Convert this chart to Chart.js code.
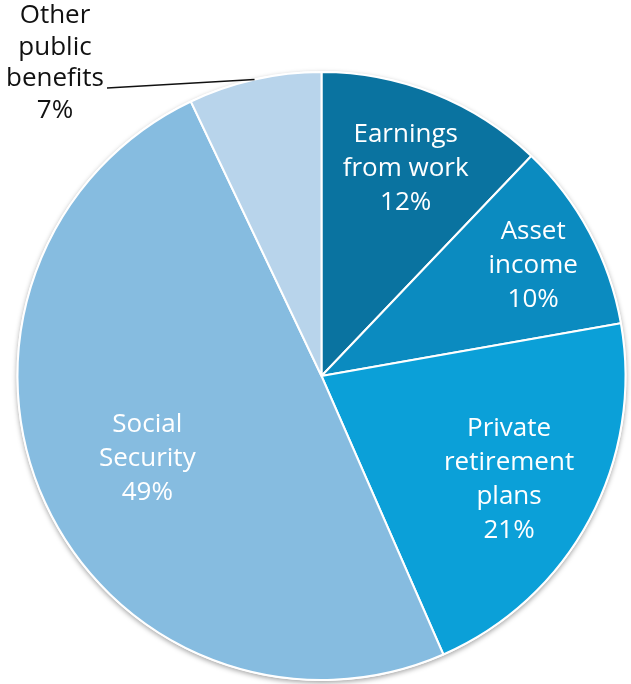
<!DOCTYPE html>
<html>
<head>
<meta charset="utf-8">
<script src="https://cdn.jsdelivr.net/npm/chart.js@4"></script>
<style>
  html, body { margin: 0; padding: 0; background: #ffffff; }
  #wrap { width: 631px; height: 684px; position: relative; }
</style>
</head>
<body>
<div id="wrap"><canvas id="c" width="631" height="684"></canvas></div>
<script>
// Sources of income for older households, share of total (%)
const categories = [
  ['Earnings', 'from work'],
  ['Asset', 'income'],
  ['Private', 'retirement', 'plans'],
  ['Social', 'Security'],
  ['Other', 'public', 'benefits']
];
const shares = [12, 10, 21, 49, 7];
const sliceColors = ['#0a73a0', '#0b8bc0', '#0ba0d8', '#86bce0', '#b8d4eb'];

// Radial placement of each inside label (fraction of radius); null = outside label
const labelRadius = [0.745, 0.79, 0.70, 0.63, null];
const FONT = '26px "Open Sans", "Liberation Sans", sans-serif';
const LINE_H = 34;
const TEXT_DY = 3;

// soft drop shadow under the pie
const pieShadow = {
  id: 'pieShadow',
  beforeDatasetsDraw(chart) {
    const arc = chart.getDatasetMeta(0).data[0];
    if (!arc) return;
    const p = arc.getProps(['x', 'y', 'outerRadius']);
    const ctx = chart.ctx;
    ctx.save();
    ctx.shadowColor = 'rgba(0,0,0,0.35)';
    ctx.shadowBlur = 5;
    ctx.shadowOffsetX = 0;
    ctx.shadowOffsetY = 2;
    ctx.fillStyle = '#ffffff';
    ctx.beginPath();
    ctx.arc(p.x, p.y, p.outerRadius + 1, 0, Math.PI * 2);
    ctx.fill();
    ctx.restore();
  }
};

const sliceLabels = {
  id: 'sliceLabels',
  afterDatasetsDraw(chart) {
    const ctx = chart.ctx;
    const meta = chart.getDatasetMeta(0);
    ctx.save();
    ctx.font = FONT;
    ctx.textAlign = 'center';
    ctx.textBaseline = 'middle';
    meta.data.forEach((arc, i) => {
      const lines = categories[i].concat([shares[i] + '%']);
      const props = arc.getProps(['x', 'y', 'startAngle', 'endAngle', 'outerRadius']);
      const mid = (props.startAngle + props.endAngle) / 2;
      if (labelRadius[i] !== null) {
        const r = props.outerRadius * labelRadius[i];
        const cx = props.x + Math.cos(mid) * r;
        const cy = props.y + Math.sin(mid) * r + TEXT_DY;
        const top = cy - (lines.length - 1) * LINE_H / 2;
        ctx.fillStyle = '#ffffff';
        lines.forEach((t, k) => ctx.fillText(t, cx, top + k * LINE_H));
      } else {
        // outside label with a leader line to the slice edge
        const ex = props.x + Math.cos(mid) * props.outerRadius;
        const ey = props.y + Math.sin(mid) * props.outerRadius;
        const tx = 55, ty = 16;
        ctx.fillStyle = '#111111';
        lines.forEach((t, k) => ctx.fillText(t, tx, ty + k * 31.5));
        ctx.strokeStyle = '#111111';
        ctx.lineWidth = 1.5;
        ctx.beginPath();
        ctx.moveTo(107, 88);
        ctx.lineTo(ex, ey);
        ctx.stroke();
      }
    });
    ctx.restore();
  }
};

new Chart(document.getElementById('c'), {
  type: 'pie',
  data: {
    labels: categories.map(c => c.join(' ')),
    datasets: [{
      data: shares,
      backgroundColor: sliceColors,
      borderColor: '#ffffff',
      borderWidth: 2
    }]
  },
  options: {
    responsive: false,
    animation: false,
    events: [],
    layout: { padding: { left: 16, right: 4, top: 71, bottom: 3 } },
    plugins: {
      legend: { display: false },
      tooltip: { enabled: false }
    }
  },
  plugins: [pieShadow, sliceLabels]
});
</script>
</body>
</html>
